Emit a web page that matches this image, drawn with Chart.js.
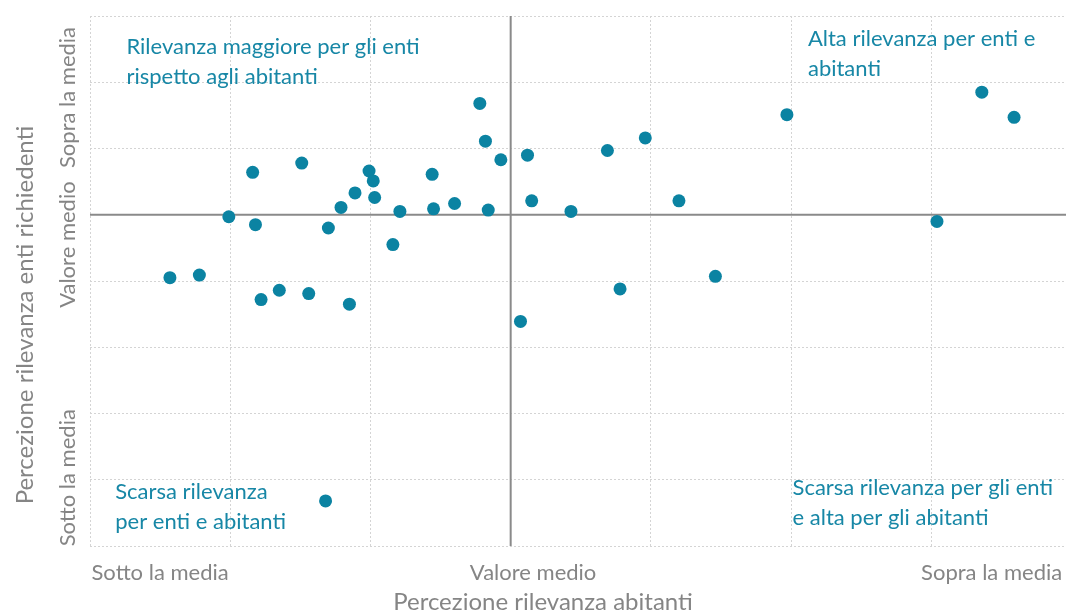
<!DOCTYPE html>
<html>
<head>
<meta charset="utf-8">
<script src="https://cdn.jsdelivr.net/npm/chart.js@4"></script>
<style>
  html, body { margin: 0; padding: 0; background: #fff; overflow: hidden; }
  #wrap { width: 1066px; height: 614px; overflow: hidden; }
</style>
</head>
<body>
<div id="wrap"><canvas id="quadChart" width="1074" height="614"></canvas></div>
<script>
// valori (unità = una cella della griglia, 0 = valore medio)
const abitanti = [-2.43, -2.22, -2.01, -1.84, -1.82, -1.78, -1.65, -1.49, -1.44, -1.30,
                  -1.32, -1.21, -1.15, -1.11, -1.01, -0.98, -0.97, -0.84, -0.79, -0.56,
                  -0.55, -0.40, -0.22, -0.18, -0.16, -0.07, 0.07, 0.12, 0.15, 0.43,
                  0.69, 0.78, 0.96, 1.20, 1.46, 1.97, 3.04, 3.36, 3.59];
const enti = [-0.95, -0.91, -0.03, 0.64, -0.15, -1.28, -1.14, 0.78, -1.19, -0.20,
              -4.32, 0.11, -1.35, 0.33, 0.66, 0.51, 0.26, -0.45, 0.05, 0.61,
              0.09, 0.17, 1.68, 1.11, 0.07, 0.83, -1.61, 0.90, 0.21, 0.05,
              0.97, -1.12, 1.16, 0.21, -0.93, 1.51, -0.10, 1.85, 1.47];

const xTickLabels = ['Sotto la media', 'Valore medio', 'Sopra la media'];
const yTickLabels = ['Sotto la media', 'Valore medio', 'Sopra la media'];
const xTitle = 'Percezione rilevanza abitanti';
const yTitle = 'Percezione rilevanza enti richiedenti';
const quadrantNotes = [
    ['Rilevanza maggiore per gli enti', 'rispetto agli abitanti'],
    ['Alta rilevanza per enti e', 'abitanti'],
    ['Scarsa rilevanza', 'per enti e abitanti'],
    ['Scarsa rilevanza per gli enti', 'e alta per gli abitanti']
];

const FONT = 'Lato, "Open Sans", sans-serif';
const GREY = '#858585';
const TEAL = '#1787a6';

// linee dello zero e testi disegnati con le scale del grafico
const quadrantPlugin = {
    id: 'quadrantPlugin',
    beforeDatasetsDraw(chart) {
        const { ctx, chartArea: a, scales: { x, y } } = chart;
        const x0 = x.getPixelForValue(0);
        const y0 = y.getPixelForValue(0);
        ctx.save();
        ctx.strokeStyle = '#8a8a8a';
        ctx.lineWidth = 2;
        ctx.beginPath();
        ctx.moveTo(x0, a.top);
        ctx.lineTo(x0, a.bottom);
        ctx.moveTo(a.left, y0);
        ctx.lineTo(a.right, y0);
        ctx.stroke();
        ctx.restore();
    },
    afterDraw(chart) {
        const { ctx, scales: { x, y } } = chart;
        ctx.save();
        ctx.font = '22px ' + FONT;
        ctx.fillStyle = GREY;
        ctx.textBaseline = 'middle';
        ctx.textAlign = 'center';

        // etichette asse x
        const xPos = [-2.5, 0.16, 3.43];
        xTickLabels.forEach((t, i) => ctx.fillText(t, x.getPixelForValue(xPos[i]), 573));

        // etichette asse y (ruotate)
        const yPos = [-3.97, -0.45, 1.77];
        yTickLabels.forEach((t, i) => {
            ctx.save();
            ctx.translate(68, y.getPixelForValue(yPos[i]));
            ctx.rotate(-Math.PI / 2);
            ctx.fillText(t, 0, 0);
            ctx.restore();
        });

        // titoli
        ctx.font = '24px ' + FONT;
        ctx.fillText(xTitle, 543, 602);
        ctx.save();
        ctx.translate(25, 315);
        ctx.rotate(-Math.PI / 2);
        ctx.fillText(yTitle, 0, 0);
        ctx.restore();

        // note dei quadranti
        ctx.font = '22px ' + FONT;
        ctx.fillStyle = TEAL;
        ctx.textAlign = 'left';
        const anchors = [[-2.74, 2.53], [2.12, 2.65], [-2.82, -4.19], [2.01, -4.12]];
        quadrantNotes.forEach((lines, i) => {
            const px = x.getPixelForValue(anchors[i][0]);
            const py = y.getPixelForValue(anchors[i][1]);
            lines.forEach((l, j) => ctx.fillText(l, px, py + j * 30));
        });
        ctx.restore();
    }
};

const points = abitanti.map((v, i) => ({ x: v, y: enti[i] }));

new Chart(document.getElementById('quadChart'), {
    type: 'scatter',
    data: {
        datasets: [{
            data: points,
            backgroundColor: '#0b83a2',
            borderWidth: 0,
            pointRadius: 6.5,
            pointHoverRadius: 6.5
        }]
    },
    options: {
        responsive: false,
        animation: false,
        layout: { padding: { left: 90, top: 16, right: 0, bottom: 68 } },
        plugins: { legend: { display: false }, tooltip: { enabled: false } },
        scales: {
            x: {
                type: 'linear',
                min: -3,
                max: 3.971,
                ticks: { display: false, stepSize: 1, includeBounds: false },
                grid: {
                    drawTicks: false,
                    color: c => c.tick && c.tick.value === 0 ? 'rgba(0,0,0,0)' : '#d4d4d4'
                },
                border: { display: false, dash: [2, 2] }
            },
            y: {
                type: 'linear',
                min: -5,
                max: 3,
                ticks: { display: false, stepSize: 1 },
                grid: {
                    drawTicks: false,
                    color: c => c.tick && c.tick.value === 0 ? 'rgba(0,0,0,0)' : '#d4d4d4'
                },
                border: { display: false, dash: [2, 2] }
            }
        }
    },
    plugins: [quadrantPlugin]
});
</script>
</body>
</html>
